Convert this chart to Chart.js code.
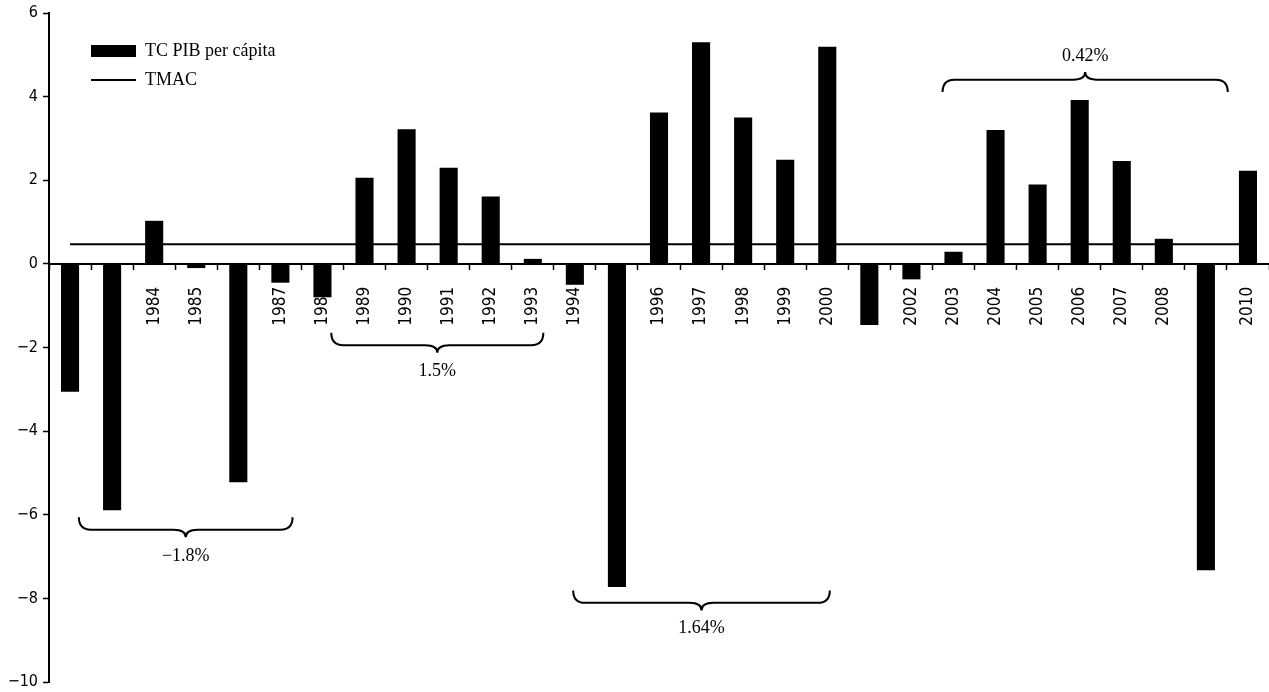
<!DOCTYPE html>
<html>
<head>
<meta charset="utf-8">
<title>TC PIB per cápita</title>
<script src="https://cdn.jsdelivr.net/npm/chart.js@4.4.0/dist/chart.umd.min.js"></script>
<style>
    html, body { margin: 0; padding: 0; background: #fff; }
    #wrap { position: relative; width: 1269px; height: 692px; }
</style>
</head>
<body>
<div id="wrap"><canvas id="bar-chart"></canvas></div>
<script>
// years on the x axis
var years = ['1982', '1983', '1984', '1985', '1986', '1987', '1988', '1989', '1990', '1991',
             '1992', '1993', '1994', '1995', '1996', '1997', '1998', '1999', '2000', '2001',
             '2002', '2003', '2004', '2005', '2006', '2007', '2008', '2009', '2010'];
// yearly growth of GDP per capita (%)
var growth = [-3.06, -5.89, 1.03, -0.10, -5.22, -0.45, -0.80, 2.06, 3.22, 2.30,
              1.61, 0.12, -0.50, -7.73, 3.62, 5.30, 3.50, 2.49, 5.19, -1.46,
              -0.37, 0.29, 3.20, 1.90, 3.92, 2.46, 0.60, -7.33, 2.23];
// average annual growth rate (same value every year)
var tmac = [0.47, 0.47, 0.47, 0.47, 0.47, 0.47, 0.47, 0.47, 0.47, 0.47,
            0.47, 0.47, 0.47, 0.47, 0.47, 0.47, 0.47, 0.47, 0.47, 0.47,
            0.47, 0.47, 0.47, 0.47, 0.47, 0.47, 0.47, 0.47, 0.47];
// y axis tick values
var yTicks = [-10, -8, -6, -4, -2, 0, 2, 4, 6];
// average of each sub period
var periodLabels = ['\u22121.8%', '1.5%', '1.64%', '0.42%'];

// where the braces go, in axis units (category index / value)
var braces = [
    { from: 0.21, to: 5.29, y: -6.06, up: false, textY: -7.0 },
    { from: 6.21, to: 11.25, y: -1.65, up: false, textY: -2.57 },
    { from: 11.96, to: 18.06, y: -7.81, up: false, textY: -8.72 },
    { from: 20.74, to: 27.52, y: 4.11, up: true, textY: 4.97 }
];

var serif = "'Liberation Serif', 'Times New Roman', serif";
var narrow = "'DejaVu Sans Condensed', 'DejaVu Sans', sans-serif";

// moves the legend to the top left corner of the plot
var legendShift = {
    id: 'legendShift',
    afterLayout: function(chart) {
        chart.legend.left += 31;
        chart.legend.top += 31;
    }
};

// draws the curly braces with the period averages
var bracePlugin = {
    id: 'braces',
    afterDatasetsDraw: function(chart) {
        var ctx = chart.ctx;
        var xs = chart.scales.x;
        var ys = chart.scales.y;
        for (var i = 0; i < braces.length; i++) {
            var b = braces[i];
            var x1 = xs.getPixelForValue(b.from);
            var x2 = xs.getPixelForValue(b.to);
            var xm = (x1 + x2) / 2;
            var y0 = ys.getPixelForValue(b.y);
            // depth of the brace and height of its long arms
            var d = b.up ? -20 : 20;
            var h = d * 0.62;
            var r = 12;
            ctx.save();
            ctx.strokeStyle = '#000';
            ctx.lineWidth = 2;
            ctx.beginPath();
            ctx.moveTo(x1, y0);
            ctx.quadraticCurveTo(x1, y0 + h, x1 + r, y0 + h);
            ctx.lineTo(xm - r, y0 + h);
            ctx.quadraticCurveTo(xm, y0 + h, xm, y0 + d);
            ctx.quadraticCurveTo(xm, y0 + h, xm + r, y0 + h);
            ctx.lineTo(x2 - r, y0 + h);
            ctx.quadraticCurveTo(x2, y0 + h, x2, y0);
            ctx.stroke();
            ctx.fillStyle = '#000';
            ctx.font = '18px ' + serif;
            ctx.textAlign = 'center';
            ctx.textBaseline = 'middle';
            ctx.fillText(periodLabels[i], xm, ys.getPixelForValue(b.textY));
            ctx.restore();
        }
    }
};

var ctx = document.getElementById('bar-chart').getContext('2d');
var myChart = new Chart(ctx, {
    type: 'bar',
    data: {
        labels: years,
        datasets: [{
            type: 'bar',
            label: 'TC PIB per cápita',
            data: growth,
            backgroundColor: '#000',
            borderWidth: 0,
            barPercentage: 0.43,
            categoryPercentage: 1,
            pointStyle: 'rect',
            order: 0
        }, {
            type: 'line',
            label: 'TMAC',
            data: tmac,
            borderColor: '#000',
            backgroundColor: '#000',
            borderWidth: 2,
            pointRadius: 0,
            pointStyle: 'line',
            pointBorderColor: '#000',
            pointBorderWidth: 2,
            order: 1
        }]
    },
    options: {
        responsive: true,
        maintainAspectRatio: false,
        animation: false,
        layout: {
            padding: { top: 13, left: 0, right: -2, bottom: 10 }
        },
        plugins: {
            tooltip: { enabled: false },
            legend: {
                position: 'chartArea',
                align: 'start',
                labels: {
                    usePointStyle: true,
                    pointStyleWidth: 45,
                    boxHeight: 12,
                    padding: 11,
                    color: '#000',
                    font: { family: serif, size: 18 }
                }
            }
        },
        scales: {
            x: {
                position: { y: 0 },
                offset: true,
                afterFit: function(axis) {
                    axis.paddingLeft = 0;
                    axis.paddingRight = 0;
                },
                grid: {
                    offset: true,
                    drawOnChartArea: false,
                    drawTicks: true,
                    tickLength: 5,
                    tickWidth: 1.5,
                    tickColor: '#000'
                },
                border: { color: '#000', width: 2 },
                ticks: {
                    autoSkip: false,
                    maxRotation: 90,
                    minRotation: 90,
                    padding: 18,
                    color: '#000',
                    font: { family: narrow, size: 17 }
                }
            },
            y: {
                min: -10,
                max: 6,
                afterBuildTicks: function(axis) {
                    axis.ticks = yTicks.map(function(v) { return { value: v }; });
                },
                afterFit: function(axis) {
                    axis.width = 49;
                    axis.paddingTop = 0;
                    axis.paddingBottom = 0;
                },
                grid: {
                    drawOnChartArea: false,
                    tickLength: 6,
                    tickWidth: 1.5,
                    tickColor: '#000'
                },
                border: { color: '#000', width: 2 },
                ticks: {
                    padding: 5,
                    color: '#000',
                    font: { family: narrow, size: 16 },
                    callback: function(value) {
                        return value < 0 ? '\u2212' + Math.abs(value) : String(value);
                    }
                }
            }
        }
    },
    plugins: [legendShift, bracePlugin]
});
</script>
</body>
</html>
